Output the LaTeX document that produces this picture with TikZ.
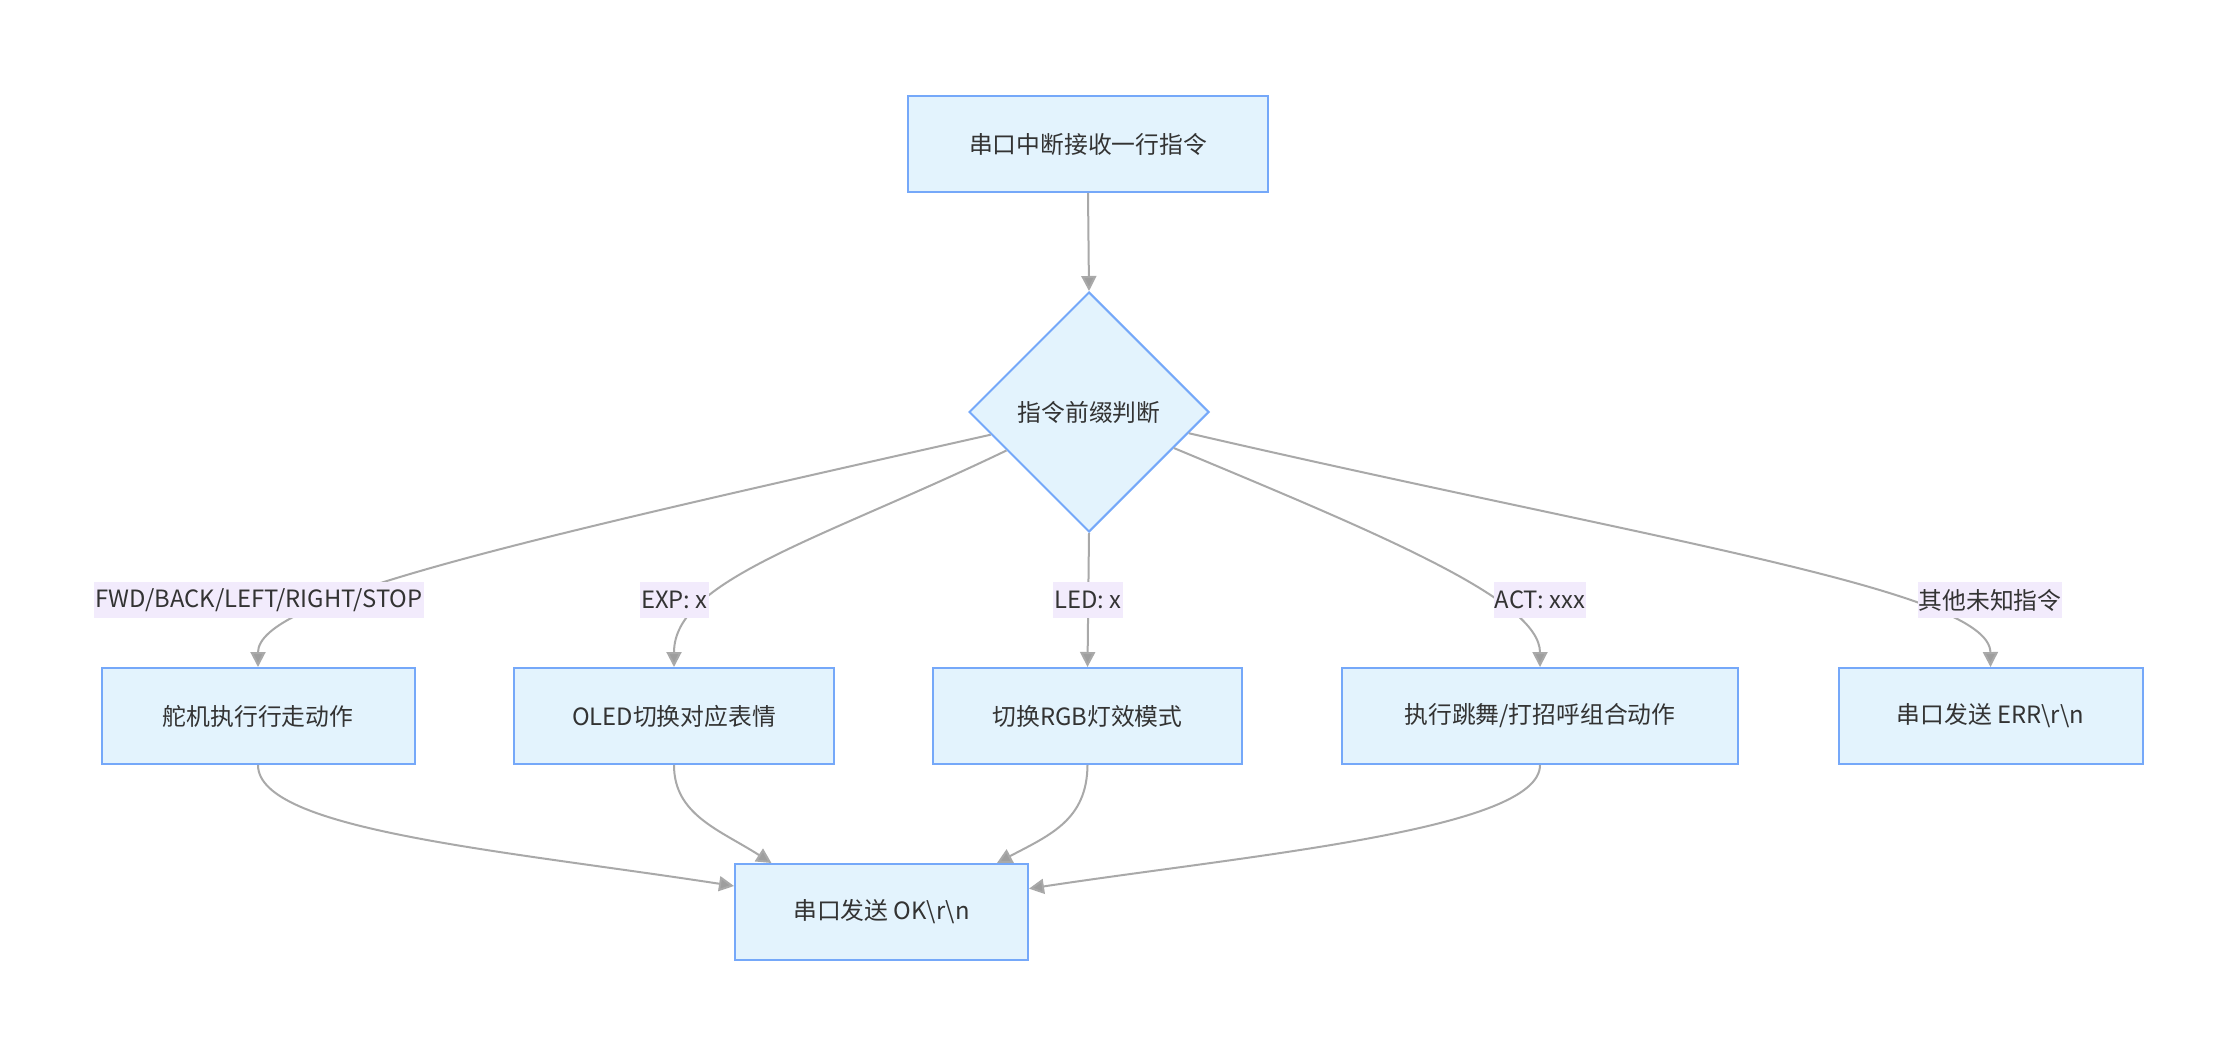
\documentclass[tikz,border=0pt]{standalone}
\usepackage{fontspec}
\setmainfont{Noto Sans CJK SC}
\usetikzlibrary{shapes.geometric,arrows.meta}
\definecolor{nodefill}{HTML}{E3F3FD}
\definecolor{nodeline}{HTML}{75A8F9}
\definecolor{edgeline}{HTML}{A9A9A9}
\definecolor{tipfill}{HTML}{9E9E9E}
\definecolor{labfill}{HTML}{F2EBFC}
\definecolor{txt}{HTML}{333333}
\tikzset{
  box/.style={draw=nodeline, fill=nodefill, line width=1pt, rectangle, inner sep=0pt,
    minimum height=48pt, text=txt, font=\fontsize{11.9}{14}\selectfont},
  decision/.style={draw=nodeline, fill=nodefill, line width=1pt, diamond, inner sep=0pt,
    minimum width=120pt, minimum height=120pt, text=txt, font=\fontsize{11.9}{14}\selectfont},
  edgelab/.style={fill=labfill, inner xsep=0.5pt, inner ysep=0pt, minimum height=18pt,
    text=txt, font=\fontsize{11.9}{14}\selectfont},
  conn/.style={draw=edgeline, line width=1pt,
    -{Triangle[length=7.5pt,width=7.5pt,fill=tipfill]}},
  plainconn/.style={draw=edgeline, line width=1pt}
}
\begin{document}
\begin{tikzpicture}[x=0.5pt,y=-0.5pt]
\useasboundingbox (0,0) rectangle (2238,1056);
\fill[white] (0,0) rectangle (2238,1056);

\node[box, minimum width=180pt] (top) at (1088,144) {串口中断接收一行指令};
\node[decision] (d) at (1089,412) {指令前缀判断};
\node[box, minimum width=156.5pt] (b1) at (258,716) {舵机执行行走动作};
\node[box, minimum width=160pt] (b2) at (674,716) {OLED切换对应表情};
\node[box, minimum width=154.5pt] (b3) at (1087.5,716) {切换RGB灯效模式};
\node[box, minimum width=198pt] (b4) at (1540,716) {执行跳舞/打招呼组合动作};
\node[box, minimum width=152pt] (b5) at (1990.5,716) {串口发送 ERR\textbackslash r\textbackslash n};
\node[box, minimum width=146.5pt] (bot) at (881.5,912) {串口发送 OK\textbackslash r\textbackslash n};

% edges
\draw[conn] (top.south) -- (d.north);
\draw[conn] (d.193) .. controls (500,545) and (258,600) .. (b1.north);
\draw[conn] (d.205) .. controls (820,540) and (674,580) .. (b2.north);
\draw[conn] (d.south) -- (b3.north);
\draw[conn] (d.337) .. controls (1380,534) and (1540,600) .. (b4.north);
\draw[conn] (d.348) .. controls (1650,540) and (1990,590) .. (b5.north);

\draw[conn] (b1.south) .. controls (258,830) and (500,850) .. (bot.170.7);
\draw[conn] (b2.south) .. controls (674,815) and (720,830) .. (bot.156.2);
\draw[conn] (b3.south) .. controls (1087,820) and (1050,835) .. (bot.23.4);
\draw[conn] (b4.south) .. controls (1540,830) and (1250,855) .. (bot.9.3);

% edge labels
\node[edgelab] (l1) at (259,600) {FWD/BACK/LEFT/RIGHT/STOP};
\node[edgelab] (l2) at (674.5,600) {EXP: x};
\node[edgelab] (l3) at (1088,600) {LED: x};
\node[edgelab] (l4) at (1540,600) {ACT: xxx};
\node[edgelab] (l5) at (1990,600) {其他未知指令};
\end{tikzpicture}
\end{document}
